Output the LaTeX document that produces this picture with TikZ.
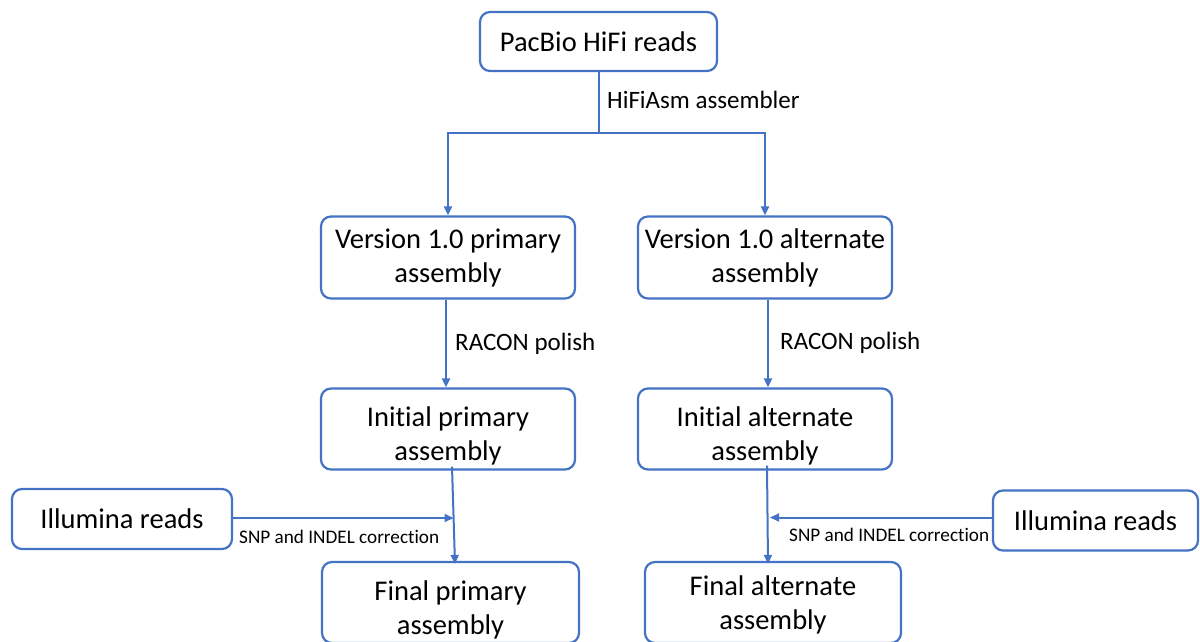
\documentclass[tikz,border=0pt]{standalone}
\usepackage{fontspec}
\setmainfont{Carlito}[Ligatures=NoCommon]
\usetikzlibrary{arrows.meta}
\definecolor{boxblue}{HTML}{4472C4}
\newcommand\twol[3]{\raisebox{#1}[0pt][0pt]{\begin{tabular}[t]{@{}c@{}}#2\\#3\end{tabular}}}
\begin{document}
\begin{tikzpicture}[x=1pt,y=-1pt,
  box/.style={draw=boxblue,line width=2.2pt,rounded corners=10pt,align=center,
    font=\fontsize{28.5}{34}\selectfont,inner sep=0pt},
  conn/.style={draw=boxblue,line width=2pt},
  arr/.style={conn,-{Triangle[length=9pt,width=8pt]}},
  lbl/.style={font=\fontsize{25}{30}\selectfont,anchor=base west,inner sep=0pt},
  slbl/.style={font=\fontsize{19.2}{23}\selectfont,anchor=base west,inner sep=0pt}]
\useasboundingbox (0,0) rectangle (1200,641);
\clip (0,0) rectangle (1200,641);
\node[box,minimum width=237pt,minimum height=59pt] (pac) at (598.5,41.5) {PacBio HiFi reads};
\node[box,minimum width=254pt,minimum height=82pt] (v1p) at (448,257.5) {\twol{8.7pt}{Version 1.0 primary}{assembly}};
\node[box,minimum width=254pt,minimum height=82pt] (v1a) at (765,257.5) {\twol{8.7pt}{Version 1.0 alternate}{assembly}};
\node[box,minimum width=254pt,minimum height=81pt] (ip) at (448,429) {\twol{3pt}{Initial primary}{assembly}};
\node[box,minimum width=254pt,minimum height=81pt] (ia) at (765,429) {\twol{3pt}{Initial alternate}{assembly}};
\node[box,minimum width=220pt,minimum height=60pt] (ill) at (122,519) {Illumina reads};
\node[box,minimum width=205pt,minimum height=60pt] (ilr) at (1095.5,520.5) {Illumina reads};
\node[box,minimum width=257pt,minimum height=81pt] (fp) at (450.5,602.5) {\twol{2.5pt}{Final primary}{assembly}};
\node[box,minimum width=256pt,minimum height=81pt] (fa) at (773,602.5) {\twol{7.5pt}{Final alternate}{assembly}};
\coordinate (split) at (598.5,133);
\coordinate (meetL) at (453.5,518);
\coordinate (meetR) at (768,517.5);
\draw[conn] (pac.south) -- (split);
\draw[arr] (split) -| (v1p.north);
\draw[arr] (split) -| (v1a.north);
\draw[arr] ([xshift=-2pt]v1p.south) -- ([xshift=-2pt]ip.north);
\draw[arr] ([xshift=3pt]v1a.south) -- ([xshift=3pt]ia.north);
\draw[arr] ([xshift=4pt,yshift=4pt]ip.south) -- ([xshift=4.5pt,yshift=-3pt]fp.north);
\draw[arr] ([xshift=2pt,yshift=5pt]ia.south) -- ([xshift=-5pt,yshift=-3pt]fa.north);
\draw[arr] (ill.east |- meetL) -- (meetL);
\draw[arr] (ilr.west |- meetR) -- ([xshift=2pt]meetR);
\node[lbl] (l1) at (607,108.5) {HiFiAsm assembler};
\node[lbl] (l2) at (455,350) {RACON polish};
\node[lbl] (l3) at (780,349) {RACON polish};
\node[slbl] (l4) at (239,543) {SNP and INDEL correction};
\node[slbl] (l5) at (789,541) {SNP and INDEL correction};
\end{tikzpicture}
\end{document}
